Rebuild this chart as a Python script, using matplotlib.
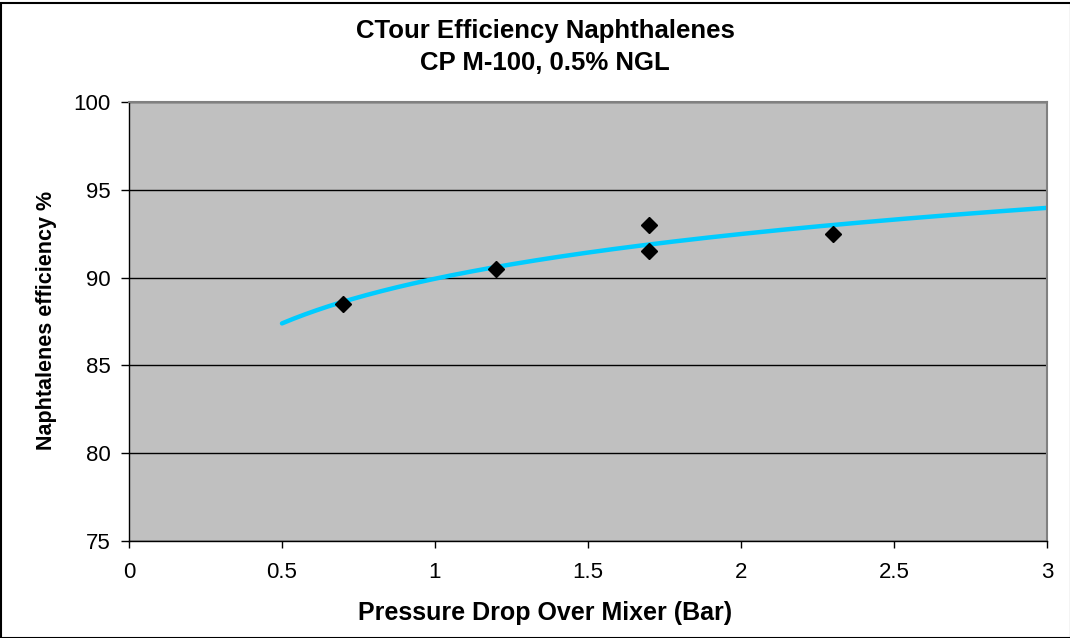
import numpy as np
import matplotlib.pyplot as plt
from matplotlib.patches import Rectangle

plt.rcParams['font.family'] = ['Liberation Sans', 'DejaVu Sans']

# measured points
pressure_drop = [0.7, 1.2, 1.7, 1.7, 2.3]
efficiency = [88.5, 90.5, 93.0, 91.5, 92.5]

# logarithmic trend line range (as drawn in the original)
trend_start = 0.5
trend_end = 3.0

x_ticks = [0, 0.5, 1, 1.5, 2, 2.5, 3]
x_tick_labels = ['0', '0.5', '1', '1.5', '2', '2.5', '3']
y_ticks = [75, 80, 85, 90, 95, 100]

fig = plt.figure(figsize=(10.7, 6.38), dpi=100)
ax = fig.add_axes([129 / 1070, 1 - 541 / 638, (1047 - 129) / 1070, (541 - 102) / 638])
ax.set_facecolor('#c0c0c0')

# log fit like the spreadsheet trendline
b, a = np.polyfit(np.log(pressure_drop), efficiency, 1)
xt = np.linspace(trend_start, trend_end, 200)
ax.plot(xt, a + b * np.log(xt), color='#00ccff', lw=3.2, solid_capstyle='round', zorder=2)

ax.plot(pressure_drop, efficiency, linestyle='none', marker='D', color='black',
        markersize=8.5, zorder=3)

ax.set_xlim(0, 3)
ax.set_ylim(75, 100)
ax.set_xticks(x_ticks)
ax.set_xticklabels(x_tick_labels)
ax.set_yticks(y_ticks)
ax.yaxis.grid(True, color='black', lw=1)
ax.set_axisbelow(True)
ax.tick_params(axis='both', labelsize=16, width=1, colors='black')
ax.tick_params(axis='x', length=5, pad=10)
ax.tick_params(axis='y', length=6, pad=7)

for side in ['top', 'right']:
    ax.spines[side].set_color('#808080')
    ax.spines[side].set_linewidth(1.5)
for side in ['left', 'bottom']:
    ax.spines[side].set_color('black')
    ax.spines[side].set_linewidth(1)

fig.text(545 / 1070, 1 - 38 / 638, 'CTour Efficiency Naphthalenes', ha='center', va='baseline',
         fontsize=18.5, fontweight='bold')
fig.text(545 / 1070, 1 - 70 / 638, 'CP M-100, 0.5% NGL', ha='center', va='baseline',
         fontsize=18.5, fontweight='bold')
fig.text(545 / 1070, 1 - 620 / 638, 'Pressure Drop Over Mixer (Bar)', ha='center', va='baseline',
         fontsize=18, fontweight='bold')
fig.text(47 / 1070, 1 - 320 / 638, 'Naphtalenes efficiency %', ha='center', va='center',
         rotation=90, fontsize=15.5, fontweight='bold')

fig.patches.append(Rectangle((1 / 1070, 0), 1, 1 - 3 / 638, transform=fig.transFigure,
                             fill=False, edgecolor='black', lw=1.5))

fig.savefig('out.png', dpi=100)
